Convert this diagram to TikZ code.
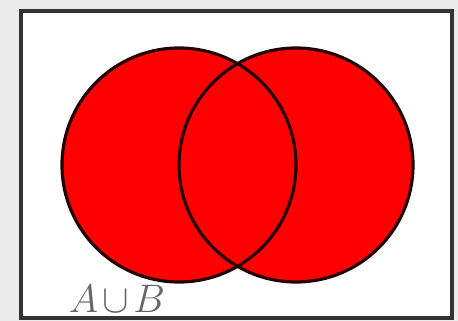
\documentclass[tikz,border=0pt]{standalone}
\usepackage{amsmath}
\begin{document}
\begin{tikzpicture}[x=1pt,y=-1pt,
  setedge/.style={draw=black!85!red,line width=3.2pt},
  frame/.style={draw=black!80,line width=4pt,fill=white},
  lbl/.style={text=black!60,font=\Huge,scale=1.6,inner sep=0pt,anchor=base}]
\useasboundingbox[fill=black!8] (0,0) rectangle (458,321);
\path[frame] (21,11) rectangle (452,318);
\fill[red] (179,165) circle[radius=117];
\fill[red] (296,165) circle[radius=117];
\draw[setedge] (179,165) circle[radius=117];
\draw[setedge] (296,165) circle[radius=117];
\node[lbl] (label) at (117,312) {$A\mkern2mu{\cup}\mkern2mu B$};
\end{tikzpicture}
\end{document}
